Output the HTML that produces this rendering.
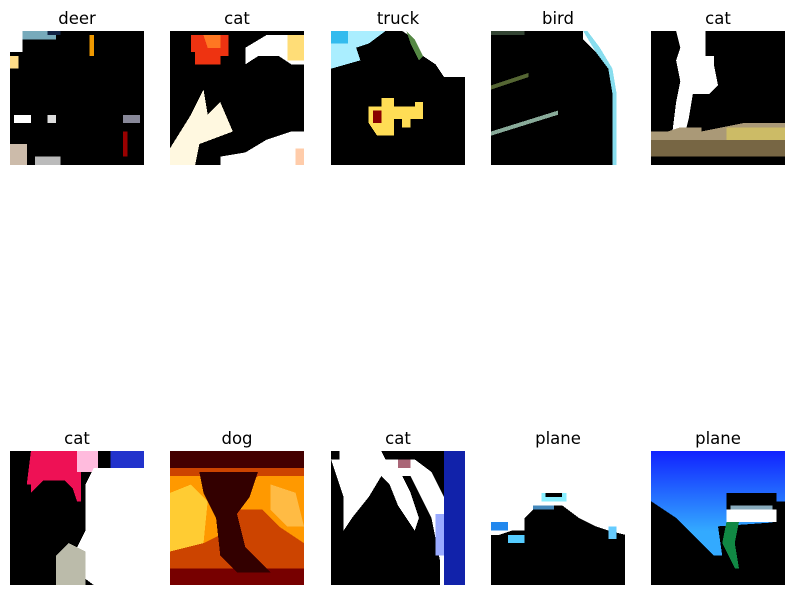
<!DOCTYPE html>
<html><head><meta charset="utf-8"><style>
body{margin:0;background:#fff;width:795px;height:595px;overflow:hidden}
svg{position:absolute;left:0;top:0}
text{font-family:"DejaVu Sans","Liberation Sans",sans-serif;font-size:16.5px;fill:#000}
</style></head><body>
<svg width="795" height="595" viewBox="0 0 795 595" shape-rendering="crispEdges">
<g>
<text x="77" y="24" text-anchor="middle">deer</text>
<svg x="10" y="31" width="134" height="134" viewBox="0 0 32 32" preserveAspectRatio="none">
<rect width="32" height="32" fill="#000"/>
<path d="M0 0h6v2h-3v3h-3z" fill="#fff"/><rect x="3" y="0" width="8" height="2" fill="#7ab"/><rect x="9" y="0" width="3" height="1" fill="#124"/>
<rect x="19" y="1" width="1" height="5" fill="#e90"/><rect x="0" y="6" width="2" height="3" fill="#fd8"/>
<rect x="1" y="20" width="4" height="2" fill="#fff"/><rect x="9" y="20" width="2" height="2" fill="#ddd"/><rect x="27" y="20" width="4" height="2" fill="#889"/>
<rect x="27" y="24" width="1" height="6" fill="#900"/><rect x="0" y="27" width="4" height="5" fill="#cba"/><rect x="6" y="30" width="6" height="2" fill="#bbb"/>
</svg></g>
<g>
<text x="237" y="24" text-anchor="middle">cat</text>
<svg x="170" y="31" width="134" height="134" viewBox="0 0 32 32" preserveAspectRatio="none">
<rect width="32" height="32" fill="#000"/>
<path d="M5 1h9v5h-2v2h-6v-3h-1z" fill="#e31"/><path d="M8 1h4v3h-3z" fill="#f72"/>
<path d="M18 4l5-3h9v7h-3l-3-2h-5l-3 2z" fill="#fff"/><rect x="28" y="1" width="4" height="6" fill="#fd7"/>
<path d="M0 32v-4l5-8 3-6 1 6 3-3 3 7-8 3-1 5h-6z" fill="#fff8e0"/><path d="M12 30l6-1 5-3 6-2 3 0v8h-20z" fill="#fff"/><rect x="30" y="28" width="2" height="4" fill="#fca"/>
</svg></g>
<g>
<text x="398" y="24" text-anchor="middle">truck</text>
<svg x="331" y="31" width="134" height="134" viewBox="0 0 32 32" preserveAspectRatio="none">
<rect width="32" height="32" fill="#000"/>
<path d="M0 0h13l-4 3-3 1 1 3-7 2z" fill="#aef"/><rect x="0" y="0" width="4" height="3" fill="#3be"/>
<path d="M17 0h15v11h-5l-2-3-3-2-2-4z" fill="#fff"/><path d="M18 0l2 2 2 4-1 1-2-4z" fill="#584"/>
<path d="M9 18h3v-2h3v2h5v-1h2v4h-3v2h-2v-2h-2v4h-4l-2-3z" fill="#fd5"/><rect x="10" y="19" width="2" height="3" fill="#800"/>
</svg></g>
<g>
<text x="558" y="24" text-anchor="middle">bird</text>
<svg x="491" y="31" width="134" height="134" viewBox="0 0 32 32" preserveAspectRatio="none">
<rect width="32" height="32" fill="#000"/>
<path d="M22 0h10v32h-3v-17l-1-6-3-4-3-3z" fill="#fff"/><path d="M22 0l1 0 3 4 3 5 1 6v17h-1v-17l-1-6-3-4z" fill="#8de"/>
<path d="M0 13l9-3 v1l-9 3z" fill="#563"/><path d="M0 24l16-5 v1l-16 5z" fill="#8a9"/><rect x="0" y="0" width="8" height="1" fill="#343"/>
</svg></g>
<g>
<text x="718" y="24" text-anchor="middle">cat</text>
<svg x="651" y="31" width="134" height="134" viewBox="0 0 32 32" preserveAspectRatio="none">
<rect width="32" height="32" fill="#000"/>
<path d="M6 0h7v3l2 2v3l1 5-2 2h-4l-1 6-1 4h-3l1-8 1-5-1-5 1-3z" fill="#fff"/>
<rect x="13" y="3" width="2" height="3" fill="#000"/>
<path d="M0 24h4l3-1h5v1l10-2h10v8h-32z" fill="#a97"/><rect x="0" y="26" width="32" height="4" fill="#764"/><rect x="18" y="23" width="14" height="3" fill="#cb6"/>
</svg></g>
<g>
<text x="77" y="444" text-anchor="middle">cat</text>
<svg x="10" y="451" width="134" height="134" viewBox="0 0 32 32" preserveAspectRatio="none">
<rect width="32" height="32" fill="#000"/>
<path d="M5 0h12v12h-1l-1-3-2-2h-5l-3 3v-2h-1z" fill="#e15"/><rect x="16" y="0" width="5" height="5" fill="#fbd"/>
<path d="M20 4h12v28h-12l-4-3v-6l2-4v-11z" fill="#fff"/><rect x="24" y="0" width="8" height="4" fill="#23c"/>
<path d="M11 32v-7l3-3 4 2v8z" fill="#bba"/>
</svg></g>
<g>
<text x="237" y="444" text-anchor="middle">dog</text>
<svg x="170" y="451" width="134" height="134" viewBox="0 0 32 32" preserveAspectRatio="none">
<rect width="32" height="32" fill="#c40"/>
<rect width="32" height="4" fill="#400"/><rect y="28" width="32" height="4" fill="#700"/>
<path d="M0 6h10l4 2h4l3-2h11v16l-6-4-4-4h-6l-4 6-4 2-8 2z" fill="#f90"/>
<path d="M0 10l5-2 4 4-1 10-8 2z" fill="#fc3"/><path d="M24 8l6 2 2 8-4 0-4-4z" fill="#fb4"/>
<path d="M7 5h14l-2 6-3 4 2 8 6 6h-8l-4-4-1-9-3-6z" fill="#300"/>
</svg></g>
<g>
<text x="398" y="444" text-anchor="middle">cat</text>
<svg x="331" y="451" width="134" height="134" viewBox="0 0 32 32" preserveAspectRatio="none">
<rect width="32" height="32" fill="#000"/>
<path d="M0 2h2l0-2h10l1 2h7l4 3 3 6 2 8v13h-3v-6l-2-10-3-6-2-4h-2l2 4 2 6-1 3-4-6-2-5-2-2-3 5-4 5-2 3v-8z" fill="#fff"/>
<rect x="27" y="0" width="5" height="32" fill="#12a"/><rect x="25" y="15" width="2" height="10" fill="#9af"/><rect x="16" y="2" width="3" height="2" fill="#a67"/>
</svg></g>
<g>
<text x="558" y="444" text-anchor="middle">plane</text>
<svg x="491" y="451" width="134" height="134" viewBox="0 0 32 32" preserveAspectRatio="none">
<rect width="32" height="32" fill="#fff"/>
<rect x="12" y="10" width="6" height="2" fill="#8ef"/><rect x="13" y="10" width="4" height="1" fill="#000"/>
<path d="M0 20h2l3 -1h3v-3l2-2h3v-1h4l4 3 4 2 3 1 4 1v12h-32z" fill="#000"/>
<rect x="0" y="17" width="4" height="2" fill="#28e"/><rect x="4" y="20" width="4" height="2" fill="#5cf"/><rect x="28" y="18" width="2" height="3" fill="#6cf"/><rect x="10" y="13" width="5" height="1" fill="#48b"/>
</svg></g>
<g>
<text x="718" y="444" text-anchor="middle">plane</text>
<svg x="651" y="451" width="134" height="134" viewBox="0 0 32 32" preserveAspectRatio="none">
<defs><linearGradient id="sky" x1="0" y1="0" x2="0" y2="1"><stop offset="0" stop-color="#12f"/><stop offset="0.6" stop-color="#3af"/></linearGradient></defs>
<rect width="32" height="32" fill="url(#sky)"/>
<path d="M0 12l6 4 5 5 4 4h2l-1-7 14-1v16h-30z" fill="#000"/>
<rect x="29" y="12" width="3" height="20" fill="#000"/>
<rect x="18" y="10" width="12" height="4" fill="#000"/><rect x="18" y="14" width="12" height="3" fill="#fff"/><rect x="19" y="13" width="10" height="1" fill="#8ab"/>
<path d="M18 17h3l-1 5 1 6h-1l-3-6z" fill="#184"/>
</svg></g>
</svg>
</body></html>
